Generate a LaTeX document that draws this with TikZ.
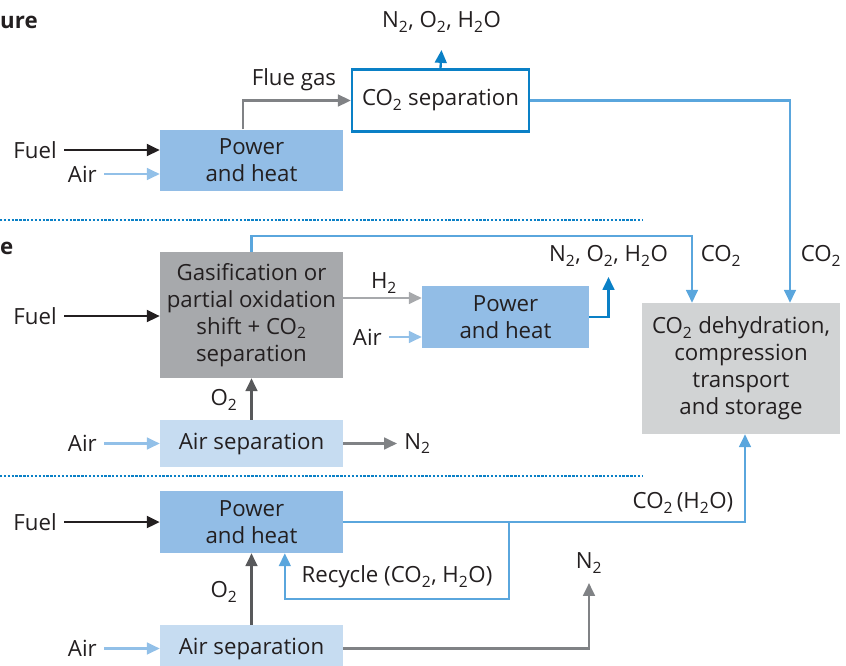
\documentclass[tikz,border=0pt]{standalone}
\usepackage{fontspec}
\setmainfont{Open Sans}
\usetikzlibrary{arrows.meta}

\definecolor{txt}{HTML}{231F20}
\definecolor{heatblue}{HTML}{92BDE6}
\definecolor{paleblue}{HTML}{C6DCF1}
\definecolor{gasgray}{HTML}{A7A9AC}
\definecolor{storegray}{HTML}{D1D3D4}
\definecolor{coblue}{HTML}{5AA6DD}
\definecolor{darkblue}{HTML}{0A80C6}
\definecolor{airblue}{HTML}{92C0E8}
\definecolor{midgray}{HTML}{808285}
\definecolor{deepgray}{HTML}{58595B}

\newcommand{\two}{\textsubscript{2}}

\begin{document}
\begin{tikzpicture}[x=0.03cm,y=-0.03cm,
  every node/.style={text=txt,font=\fontsize{19}{23}\selectfont},
  box/.style={minimum width=5.49cm,minimum height=1.83cm,align=center,inner sep=0pt},
  lbl/.style={inner sep=6pt},
  ttl/.style={anchor=west,inner sep=0pt,font=\fontsize{19}{23}\selectfont\bfseries},
  headed/.style={-{Triangle[length=11pt,width=10pt]}},
  fuelflow/.style={headed,draw=txt,line width=2.4pt},
  airflow/.style={headed,draw=airblue,line width=2pt},
  coflow/.style={headed,draw=coblue,line width=2pt},
  outflow/.style={headed,draw=darkblue,line width=2pt},
  greyflow/.style={headed,draw=midgray,line width=2.1pt},
  sepline/.style={darkblue,line width=2pt,dash pattern=on 2pt off 1.3pt}]
  \useasboundingbox (0,0) rectangle (846,665);

  % top part
  \node[ttl] (ttl1) at (0,22) {ure};
  \node[box,fill=heatblue] (ph1) at (251.5,160) {Power\\and heat};
  \node[lbl,anchor=east] (fuel1) at (64,150) {Fuel};
  \node[lbl,anchor=east] (air1) at (104,174) {Air};
  \node[box,fill=white,draw=darkblue,line width=2pt,minimum width=5.31cm,minimum height=1.86cm] (sep) at (440.5,100.5) {CO\two{} separation};
  \node (flue) at (294,80) {Flue gas};
  \node (out1) at (441.5,22) {N\two, O\two, H\two O};
  \node (co1) at (821,256) {CO\two};
  \draw[fuelflow] (fuel1.east) -- (fuel1.east -| ph1.west);
  \draw[airflow] (air1.east) -- (air1.east -| ph1.west);
  \draw[greyflow] ([xshift=-0.255cm]ph1.north) |- (sep.west);
  \draw[outflow] (sep.north) -- ([yshift=-0.84cm]out1.center);

  \draw[sepline] (0,220) -- (643,220);

  % middle part
  \node[ttl] (ttl2) at (0,248) {e};
  \node[box,fill=gasgray,minimum height=3.78cm] (gas) at (251.5,315) {Gasification or\\partial oxidation\\shift + CO\two\\separation};
  \node[lbl,anchor=east] (fuel2) at (64,316) {Fuel};
  \node[box,fill=heatblue,minimum width=5.01cm,minimum height=1.86cm] (ph2) at (505.5,317) {Power\\and heat};
  \node (h2) at (384,283) {H\two};
  \node[lbl,anchor=east] (air3) at (389,337) {Air};
  \node (out2) at (608.5,256) {N\two, O\two, H\two O};
  \node (co2) at (721,256) {CO\two};
  \node[box,fill=paleblue,minimum height=1.41cm] (asu1) at (251.5,443.5) {Air separation};
  \node[lbl,anchor=east] (air2) at (104,443.5) {Air};
  \node (o2a) at (224,400) {O\two};
  \node[lbl,anchor=west] (n2a) at (397,443.5) {N\two};
  \node[box,fill=storegray,minimum width=5.94cm,minimum height=3.93cm] (store) at (741,368.5) {CO\two{} dehydration,\\compression\\transport\\and storage};
  \draw[fuelflow] (fuel2.east) -- (fuel2.east -| gas.west);
  \draw[coflow] (gas.north) -- ++(0,-16) -| ([xshift=-1.47cm]store.north);
  \draw[coflow] (sep.east) -| ([xshift=1.47cm]store.north);
  \draw[headed,draw=gasgray,line width=2pt] ([yshift=0.51cm]gas.east) -- ([yshift=0.51cm]gas.east -| ph2.west);
  \draw[airflow] (air3.east) -- (air3.east -| ph2.west);
  \draw[outflow] (ph2.east) -| ([yshift=-0.63cm]out2.center);
  \draw[airflow] (air2.east) -- (air2.east -| asu1.west);
  \draw[headed,draw=deepgray,line width=2.1pt] (asu1.north) -- (gas.south);
  \draw[greyflow] (asu1.east) -- (n2a.west);

  \draw[sepline] (0,476) -- (643,476);

  % bottom part
  \node[box,fill=heatblue,minimum height=1.86cm] (ph3) at (251.5,522) {Power\\and heat};
  \node[lbl,anchor=east] (fuel3) at (64,522) {Fuel};
  \node (co3) at (683,503) {CO\two\,(H\two O)};
  \node (recy) at (397,577) {Recycle (CO\two, H\two O)};
  \node[box,fill=paleblue,minimum height=1.41cm] (asu2) at (251.5,648.5) {Air separation};
  \node[lbl,anchor=east] (air4) at (104,648.5) {Air};
  \node (o2b) at (224,592) {O\two};
  \node (n2b) at (589,563) {N\two};
  \coordinate (branch) at (509,522);
  \draw[fuelflow] (fuel3.east) -- (fuel3.east -| ph3.west);
  \draw[coflow] (ph3.east) -| ([xshift=0.12cm]store.south);
  \draw[coflow] (branch) -- ++(0,77) -| ([xshift=1cm]ph3.south);
  \draw[airflow] (air4.east) -- (air4.east -| asu2.west);
  \draw[headed,draw=deepgray,line width=2.1pt] (asu2.north) -- (ph3.south);
  \draw[greyflow] (asu2.east) -| ([yshift=-0.6cm]n2b.center);
\end{tikzpicture}
\end{document}
